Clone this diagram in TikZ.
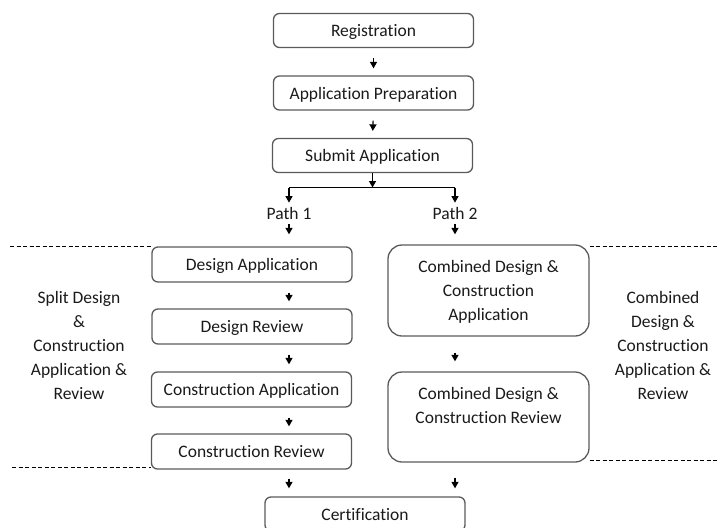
\documentclass[tikz,border=0pt]{standalone}
\usepackage{fontspec}
\setmainfont{Carlito}[Ligatures=NoCommon]
\usetikzlibrary{arrows.meta}
\definecolor{boxgray}{HTML}{5A5A5A}
\definecolor{ink}{HTML}{1A1A1A}
\begin{document}
\begin{tikzpicture}[x=1pt,y=-1pt,
  txt/.style={text=ink, align=center, inner sep=0pt, font=\fontsize{17.5}{24}\selectfont},
  box/.style={txt, text depth=0pt, draw=boxgray, line width=1.3pt, rounded corners=6pt,
    minimum width=200pt, minimum height=34pt},
  arr/.style={line width=1.2pt, -{Triangle[length=6.5pt,width=7pt]}},
  gaparrow/.style={arr, shorten <=10pt, shorten >=7pt},
  divider/.style={line width=0.8pt, dash pattern=on 4pt off 2.5pt}
]
\useasboundingbox (0,0) rectangle (719,527);

% main sequence
\node[box] (reg)  at (373.5,30.5) {Registration};
\node[box] (prep) at (373.5,93)   {Application Preparation};
\node[box] (sub)  at (372.5,155.5){Submit Application};

\draw[gaparrow] (reg.south) -- (prep.north);
\draw[gaparrow] (prep.south) -- (sub.north);

% branching into the two paths
\coordinate (split) at (372.5,187.5);
\coordinate (p1) at (289,187.5);
\coordinate (p2) at (455,187.5);
\draw[arr] (sub.south) -- (split);
\draw[line width=1.2pt] (p1) -- (p2);

\node[txt] (path1) at (289,213) {Path 1};
\node[txt] (path2) at (455,213) {Path 2};
\draw[arr, shorten >=4pt] (p1) -- (path1.north);
\draw[arr, shorten >=4pt] (p2) -- (path2.north);

% path 1: split design and construction
\node[box, minimum height=35pt] (da) at (252,264.5) {Design Application};
\node[box, minimum height=35pt] (dr) at (252,326.5) {Design Review};
\node[box, minimum height=35pt] (ca) at (251.5,389.5) {Construction Application};
\node[box, minimum height=35pt] (cr) at (251.5,451.5) {Construction Review};

\draw[arr, shorten <=5pt, shorten >=12pt] (path1.south) -- (da.north -| path1);
\draw[gaparrow] (da.south -| p1) -- (dr.north -| p1);
\draw[gaparrow] (dr.south -| p1) -- (ca.north -| p1);
\draw[gaparrow] (ca.south -| p1) -- (cr.north -| p1);

% path 2: combined design and construction
\node[box, minimum width=201pt, minimum height=91pt, rounded corners=14pt] (cda) at (488.5,290.5)
  {Combined Design \&\\Construction\\Application};
\node[box, minimum width=201pt, minimum height=90pt, rounded corners=14pt] (cdr) at (488.5,417)
  {Combined Design \&\\Construction Review\\\strut};

\draw[arr, shorten <=5pt, shorten >=10pt] (path2.south) -- (cda.north -| path2);
\draw[arr, shorten <=16pt, shorten >=10pt] (cda.south -| p2) -- (cdr.north -| p2);

% final step
\node[box] (cert) at (365,514) {Certification};
\draw[arr, shorten <=9pt, shorten >=8pt] (cr.south -| p1) -- (cert.north -| p1);
\draw[arr, shorten <=15pt, shorten >=8pt] (cdr.south -| p2) -- (cert.north -| p2);

% section dividers
\coordinate (dlt) at (10,246);
\coordinate (dlb) at (12,467);
\coordinate (drt) at (719,246);
\coordinate (drb) at (719,460);
\draw[divider] (dlt) -- (dlt -| da.west);
\draw[divider] (dlb) -- (dlb -| cr.west);
\draw[divider] (cda.east |- drt) -- (drt);
\draw[divider] (cdr.east |- drb) -- (drb);

% section labels
\node[txt] (splitlbl) at (79,345.5)
  {Split Design\\\&\\Construction\\Application \&\\Review};
\node[txt] (comblbl) at (663,345.5)
  {Combined\\Design \&\\Construction\\Application \&\\Review};
\end{tikzpicture}
\end{document}
